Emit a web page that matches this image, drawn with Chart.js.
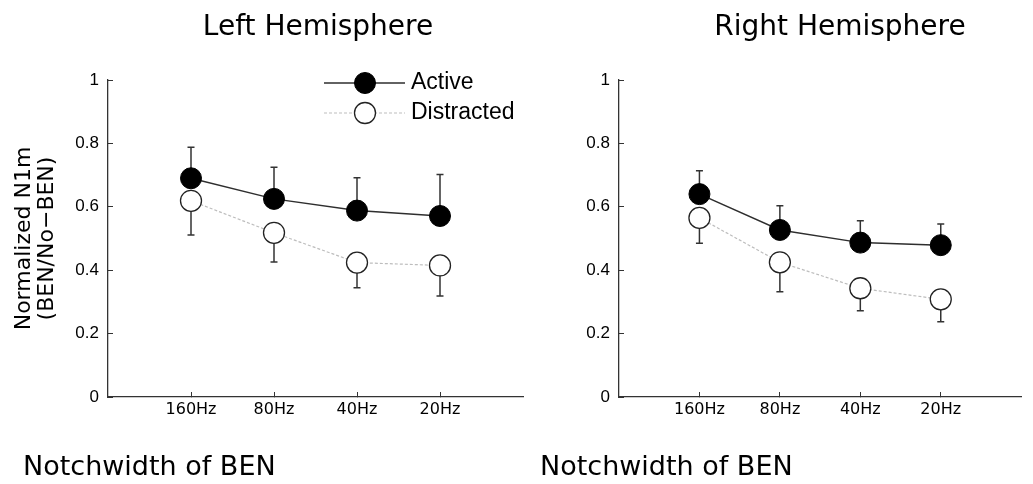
<!DOCTYPE html>
<html>
<head>
<meta charset="utf-8">
<script src="https://cdn.jsdelivr.net/npm/chart.js@4.4.1/dist/chart.umd.min.js"></script>
<style>
  body { margin: 0; background: #fff; }
  #wrap { position: relative; width: 1033px; height: 484px; overflow: hidden; }
  canvas { position: absolute; top: 0; }
  #leftChart { left: 0; }
  #rightChart { left: 510px; }
</style>
</head>
<body>
<div id="wrap">
  <canvas id="leftChart" width="540" height="484" style="width:540px;height:484px"></canvas>
  <canvas id="rightChart" width="523" height="484" style="width:523px;height:484px"></canvas>
</div>
<script>
// values (means and one-sided error bars)
const categories = ['160Hz', '80Hz', '40Hz', '20Hz'];

const leftActive        = [0.690, 0.625, 0.588, 0.571];
const leftActiveErr     = [0.098, 0.100, 0.104, 0.131];
const leftDistracted    = [0.619, 0.518, 0.424, 0.415];
const leftDistractedErr = [0.108, 0.092, 0.079, 0.096];

const rightActive        = [0.640, 0.527, 0.487, 0.479];
const rightActiveErr     = [0.074, 0.076, 0.069, 0.067];
const rightDistracted    = [0.565, 0.425, 0.343, 0.308];
const rightDistractedErr = [0.080, 0.093, 0.071, 0.071];

const seriesNames = ['Active', 'Distracted'];
const yTitle = ['Normalized N1m', '(BEN/No\u2212BEN)'];
const xTitle = 'Notchwidth of BEN';

function toPoints(values) {
  return values.map((v, i) => ({ x: i + 1, y: v }));
}

// error bars go under the markers
const errorBars = {
  id: 'errorBars',
  beforeDatasetsDraw(chart) {
    const ctx = chart.ctx;
    const yScale = chart.scales.y;
    chart.data.datasets.forEach((ds, i) => {
      if (!ds.errors) return;
      const meta = chart.getDatasetMeta(i);
      ctx.save();
      ctx.strokeStyle = '#333';
      ctx.lineWidth = 1.5;
      meta.data.forEach((pt, j) => {
        const v = ds.data[j].y;
        const end = ds.errorDir === 'up' ? v + ds.errors[j] : v - ds.errors[j];
        const py = yScale.getPixelForValue(end);
        ctx.beginPath();
        ctx.moveTo(pt.x, pt.y);
        ctx.lineTo(pt.x, py);
        ctx.moveTo(pt.x - 3.5, py);
        ctx.lineTo(pt.x + 3.5, py);
        ctx.stroke();
      });
      ctx.restore();
    });
  }
};

// legend drawn as line - marker - line, like the figure
const lineLegend = {
  id: 'lineLegend',
  afterDraw(chart, args, opts) {
    if (!opts.show) return;
    const ctx = chart.ctx;
    chart.data.datasets.forEach((ds, i) => {
      const cy = opts.y + i * opts.rowGap;
      ctx.save();
      ctx.strokeStyle = ds.borderColor;
      ctx.lineWidth = ds.borderWidth;
      ctx.setLineDash(ds.borderDash || []);
      ctx.beginPath();
      ctx.moveTo(opts.x, cy);
      ctx.lineTo(opts.x + opts.lineLen, cy);
      ctx.stroke();
      ctx.setLineDash([]);
      ctx.beginPath();
      ctx.arc(opts.x + opts.markerAt, cy, ds.pointRadius, 0, Math.PI * 2);
      ctx.fillStyle = ds.pointBackgroundColor;
      ctx.fill();
      ctx.lineWidth = ds.pointBorderWidth;
      ctx.strokeStyle = ds.pointBorderColor;
      ctx.stroke();
      ctx.fillStyle = '#000';
      ctx.font = '23px "Liberation Sans", Arial, sans-serif';
      ctx.textAlign = 'left';
      ctx.textBaseline = 'middle';
      ctx.fillText(ds.label, opts.x + opts.lineLen + 6, cy);
      ctx.restore();
    });
  }
};

// panel heading and the bottom caption
const panelText = {
  id: 'panelText',
  afterDraw(chart, args, opts) {
    const ctx = chart.ctx;
    ctx.save();
    ctx.fillStyle = '#000';
    ctx.textBaseline = 'alphabetic';
    ctx.font = '28px "DejaVu Sans", sans-serif';
    ctx.textAlign = 'center';
    ctx.fillText(opts.title, opts.titleX, 35);
    ctx.font = '27px "DejaVu Sans", sans-serif';
    ctx.textAlign = 'left';
    ctx.fillText(opts.caption, opts.captionX, 475);
    ctx.restore();
  }
};

function makeDatasets(active, activeErr, distracted, distractedErr) {
  return [
    {
      label: seriesNames[0],
      data: toPoints(active),
      errors: activeErr,
      errorDir: 'up',
      order: 1,
      borderColor: '#2e2e2e',
      borderWidth: 1.5,
      pointRadius: 10.5,
      pointBackgroundColor: '#000',
      pointBorderColor: '#000',
      pointBorderWidth: 1,
      tension: 0
    },
    {
      label: seriesNames[1],
      data: toPoints(distracted),
      errors: distractedErr,
      errorDir: 'down',
      order: 0,
      borderColor: '#bdbdbd',
      borderWidth: 1.2,
      borderDash: [3, 2],
      pointRadius: 10.5,
      pointBackgroundColor: '#fff',
      pointBorderColor: '#222',
      pointBorderWidth: 1.3,
      tension: 0
    }
  ];
}

function makeConfig(datasets, yWidth, padRight, showYTitle, text, legendOpts) {
  return {
    type: 'line',
    data: { datasets: datasets },
    plugins: [errorBars, lineLegend, panelText],
    options: {
      responsive: false,
      animation: false,
      events: [],
      layout: { padding: { top: 80, right: padRight, bottom: 0, left: 0 } },
      plugins: {
        legend: { display: false },
        tooltip: { enabled: false },
        lineLegend: legendOpts,
        panelText: text
      },
      scales: {
        x: {
          type: 'linear',
          min: 0,
          max: 5,
          afterFit: s => { s.height = 87; },
          afterBuildTicks: s => { s.ticks = [0, 1, 2, 3, 4, 5].map(v => ({ value: v })); },
          ticks: {
            autoSkip: false,
            maxRotation: 0,
            padding: 8,
            color: '#000',
            font: { family: 'DejaVu Sans', size: 16 },
            callback: v => categories[v - 1] || ''
          },
          grid: {
            drawOnChartArea: false,
            tickLength: -5,
            lineWidth: 1,
            color: c => (c.tick && c.tick.value >= 1 && c.tick.value <= 4) ? '#333' : 'rgba(0,0,0,0)'
          },
          border: { color: '#333', width: 1.3 }
        },
        y: {
          min: 0,
          max: 1,
          afterFit: s => { s.width = yWidth; },
          ticks: {
            stepSize: 0.2,
            padding: 14,
            color: '#000',
            font: { family: 'Liberation Sans', size: 17 },
            callback: v => String(+v.toFixed(1))
          },
          grid: { drawOnChartArea: false, tickLength: -5, color: '#333', lineWidth: 1 },
          border: { color: '#333', width: 1.3 },
          title: {
            display: showYTitle,
            text: yTitle,
            color: '#000',
            font: { family: 'DejaVu Sans', size: 22, lineHeight: 1.05 },
            padding: { top: 13, bottom: 0 }
          }
        }
      }
    }
  };
}

new Chart(document.getElementById('leftChart'), makeConfig(
  makeDatasets(leftActive, leftActiveErr, leftDistracted, leftDistractedErr),
  108, 17, true,
  { title: 'Left Hemisphere', titleX: 318, caption: xTitle, captionX: 23 },
  { show: true, x: 324, y: 83, rowGap: 30, lineLen: 81, markerAt: 41 }
));

new Chart(document.getElementById('rightChart'), makeConfig(
  makeDatasets(rightActive, rightActiveErr, rightDistracted, rightDistractedErr),
  109, 6, false,
  { title: 'Right Hemisphere', titleX: 330, caption: xTitle, captionX: 30 },
  { show: false }
));
</script>
</body>
</html>
